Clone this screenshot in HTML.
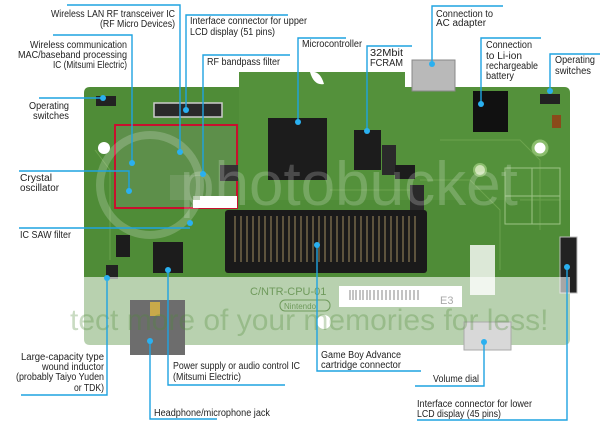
<!DOCTYPE html>
<html><head><meta charset="utf-8"><style>
html,body{margin:0;padding:0;background:#fff;width:612px;height:426px;overflow:hidden}
svg{display:block}
text{font-family:"Liberation Sans",sans-serif;font-size:10px;fill:#222}
</style></head><body>
<svg width="612" height="426" viewBox="0 0 612 426" xmlns="http://www.w3.org/2000/svg">
<path d="M84,93 Q84,87 90,87 L239,87 L239,72 L405,72 L405,87 L564,87 Q570,87 570,93 L570,339 Q570,345 564,345 L90,345 Q84,345 84,339 Z" fill="#4f8c37"/>
<path d="M239,72 L405,72 L405,87 L564,87 Q570,87 570,93 L570,200 L239,200 Z" fill="#5a963f" opacity=".5"/>
<g stroke="#76ab55" stroke-width="1" fill="none" opacity=".7">
<path d="M440,140 L520,140 L540,160 L540,230"/><path d="M420,180 L470,180 L500,210 L500,270"/>
<path d="M520,200 L560,200"/><path d="M95,150 L110,170 L110,260"/><path d="M330,190 L420,190"/>
</g>
<rect x="505" y="168" width="55" height="56" fill="none" stroke="#9cc385" stroke-width="1"/>
<line x1="532" y1="168" x2="532" y2="224" stroke="#9cc385"/><line x1="505" y1="196" x2="560" y2="196" stroke="#9cc385"/>
<circle cx="540" cy="148" r="7" fill="#fff" stroke="#8bbd6d" stroke-width="3"/>
<circle cx="480" cy="170" r="6" fill="#cfe3b6" stroke="#8bbd6d" stroke-width="2"/>
<circle cx="104" cy="148" r="6" fill="#fff"/>
<path d="M310,72 q10,-2 14,12 q-10,2 -14,-12z" fill="#fff"/>
<rect x="115" y="125" width="122" height="83" fill="#5d8f4a" stroke="#c8102e" stroke-width="2"/>
<rect x="193" y="196" width="44" height="12" fill="#fff"/>
<rect x="170" y="175" width="30" height="25" fill="#7aa06a" opacity=".6"/>
<rect x="154" y="103" width="68" height="14" fill="#2a2a2a" stroke="#ccc" stroke-width="1.5"/>
<rect x="268" y="118" width="59" height="62" fill="#1c1c1c"/>
<rect x="354" y="130" width="27" height="40" fill="#1c1c1c"/>
<rect x="412" y="60" width="43" height="31" fill="#b9b9b9" stroke="#888"/>
<rect x="473" y="91" width="35" height="41" fill="#111"/>
<rect x="153" y="242" width="30" height="31" fill="#1c1c1c"/>
<rect x="96" y="96" width="20" height="10" fill="#222"/>
<rect x="540" y="94" width="20" height="10" fill="#222"/>
<rect x="382" y="145" width="14" height="30" fill="#2a2a2a"/>
<rect x="395" y="165" width="20" height="14" fill="#1c1c1c"/>
<rect x="410" y="185" width="14" height="26" fill="#2a2a2a"/>
<rect x="220" y="165" width="18" height="16" fill="#333"/>
<rect x="116" y="235" width="14" height="22" fill="#1c1c1c"/>
<rect x="106" y="265" width="12" height="14" fill="#222"/>
<rect x="552" y="115" width="9" height="13" fill="#8a4a1a"/>
<rect x="225" y="210" width="202" height="63" rx="3" fill="#1a1a1a"/>
<g stroke="#8a7a55" stroke-width="1.2">
<path d="M235,216 V262 M241,216 V262 M247,216 V262 M253,216 V262 M259,216 V262 M265,216 V262 M271,216 V262 M277,216 V262 M283,216 V262 M289,216 V262 M295,216 V262 M301,216 V262 M307,216 V262 M313,216 V262 M319,216 V262 M325,216 V262 M331,216 V262 M337,216 V262 M343,216 V262 M349,216 V262 M355,216 V262 M361,216 V262 M367,216 V262 M373,216 V262 M379,216 V262 M385,216 V262 M391,216 V262 M397,216 V262 M403,216 V262 M409,216 V262 M415,216 V262"/>
</g>
<rect x="560" y="237" width="17" height="56" fill="#222" stroke="#bbb"/>
<rect x="470" y="245" width="25" height="50" fill="#fff" opacity=".8"/>
<rect x="84" y="277" width="486" height="68" fill="#fff" opacity=".6"/>
<rect x="339" y="286" width="123" height="21" fill="#fff"/>
<g stroke="#555" stroke-width=".7"><path d="M350,290 V300 M353,290 V300 M356,290 V300 M360,290 V300 M363,290 V300 M367,290 V300 M370,290 V300 M374,290 V300 M378,290 V300 M382,290 V300 M386,290 V300 M390,290 V300 M394,290 V300 M398,290 V300 M402,290 V300 M406,290 V300 M410,290 V300 M414,290 V300 M418,290 V300"/></g>
<text x="440" y="304" style="font-size:11px;fill:#aaa">E3</text>
<text x="250" y="295" style="font-size:11px;fill:#6f9a5c">C/NTR-CPU-01</text>
<rect x="280" y="300" width="50" height="11" rx="5" fill="none" stroke="#6f9a5c"/>
<text x="284" y="309" style="font-size:8px;fill:#6f9a5c">Nintendo</text>
<rect x="130" y="300" width="55" height="55" fill="#6d6d6d"/>
<rect x="150" y="302" width="10" height="14" fill="#c9a94a"/>
<rect x="464" y="322" width="47" height="28" fill="#d8d8d8" stroke="#aaa"/>
<circle cx="324" cy="322" r="7" fill="#fff"/>
<text x="180" y="205" style="font-size:62px;fill:#fff;opacity:.2">photobucket</text>
<text x="70" y="330" style="font-size:30px;fill:#4f8c37;opacity:.3">tect more of your memories for less!</text>
<circle cx="150" cy="185" r="50" fill="none" stroke="#fff" stroke-width="8" opacity=".2"/>
<g stroke="#1fa3e0" stroke-width="1.4" fill="none">
<path d="M67,5 H180 V152"/>
<path d="M288,15 H186 V110"/>
<path d="M53,35 H132 V163"/>
<path d="M290,55 H203 V174"/>
<path d="M346,38 H298 V122"/>
<path d="M412,46 H367 V131"/>
<path d="M503,6 H432 V64"/>
<path d="M541,38 H481 V104"/>
<path d="M600,54 H550 V91"/>
<path d="M39,98 H103"/>
<path d="M19,171 H129 V191"/>
<path d="M19,228 H190"/>
<path d="M21,395 H107 V278"/>
<path d="M217,419 H150 V341"/>
<path d="M285,385 H168 V270"/>
<path d="M421,371 H317 V245"/>
<path d="M415,386 H484 V342"/>
<path d="M417,420 H567 V267"/>
</g>
<g fill="#2ab0f0">
<circle cx="180" cy="152" r="3"/><circle cx="186" cy="110" r="3"/><circle cx="132" cy="163" r="3"/>
<circle cx="203" cy="174" r="3"/><circle cx="298" cy="122" r="3"/><circle cx="367" cy="131" r="3"/>
<circle cx="432" cy="64" r="3"/><circle cx="481" cy="104" r="3"/><circle cx="550" cy="91" r="3"/>
<circle cx="103" cy="98" r="3"/><circle cx="129" cy="191" r="3"/><circle cx="190" cy="223" r="3"/>
<circle cx="107" cy="278" r="3"/><circle cx="150" cy="341" r="3"/><circle cx="168" cy="270" r="3"/>
<circle cx="317" cy="245" r="3"/><circle cx="484" cy="342" r="3"/><circle cx="567" cy="267" r="3"/>
</g>
<g text-anchor="end">
<text x="175" y="17" textLength="124" lengthAdjust="spacingAndGlyphs">Wireless LAN RF transceiver IC</text>
<text x="175" y="27" textLength="75" lengthAdjust="spacingAndGlyphs">(RF Micro Devices)</text>
<text x="127" y="48" textLength="97" lengthAdjust="spacingAndGlyphs">Wireless communication</text>
<text x="127" y="58" textLength="109" lengthAdjust="spacingAndGlyphs">MAC/baseband processing</text>
<text x="127" y="68" textLength="74" lengthAdjust="spacingAndGlyphs">IC (Mitsumi Electric)</text>
<text x="69" y="109" textLength="40" lengthAdjust="spacingAndGlyphs">Operating</text>
<text x="69" y="119" textLength="36" lengthAdjust="spacingAndGlyphs">switches</text>
<text x="104" y="360" textLength="83" lengthAdjust="spacingAndGlyphs">Large-capacity type</text>
<text x="104" y="370" textLength="62" lengthAdjust="spacingAndGlyphs">wound inductor</text>
<text x="104" y="380" textLength="88" lengthAdjust="spacingAndGlyphs">(probably Taiyo Yuden</text>
<text x="104" y="391" textLength="30" lengthAdjust="spacingAndGlyphs">or TDK)</text>
<text x="479" y="382" textLength="46" lengthAdjust="spacingAndGlyphs">Volume dial</text>
</g>
<text x="190" y="24" textLength="117" lengthAdjust="spacingAndGlyphs">Interface connector for upper</text>
<text x="190" y="35" textLength="85" lengthAdjust="spacingAndGlyphs">LCD display (51 pins)</text>
<text x="207" y="65" textLength="73" lengthAdjust="spacingAndGlyphs">RF bandpass filter</text>
<text x="302" y="47" textLength="60" lengthAdjust="spacingAndGlyphs">Microcontroller</text>
<text x="370" y="56" textLength="33" lengthAdjust="spacingAndGlyphs">32Mbit</text>
<text x="370" y="66" textLength="33" lengthAdjust="spacingAndGlyphs">FCRAM</text>
<text x="436" y="17" textLength="57" lengthAdjust="spacingAndGlyphs">Connection to</text>
<text x="436" y="26" textLength="50" lengthAdjust="spacingAndGlyphs">AC adapter</text>
<text x="486" y="48" textLength="46" lengthAdjust="spacingAndGlyphs">Connection</text>
<text x="486" y="59" textLength="36" lengthAdjust="spacingAndGlyphs">to Li-ion</text>
<text x="486" y="69" textLength="52" lengthAdjust="spacingAndGlyphs">rechargeable</text>
<text x="486" y="79" textLength="28" lengthAdjust="spacingAndGlyphs">battery</text>
<text x="555" y="63" textLength="40" lengthAdjust="spacingAndGlyphs">Operating</text>
<text x="555" y="74" textLength="36" lengthAdjust="spacingAndGlyphs">switches</text>
<text x="20" y="181" textLength="32" lengthAdjust="spacingAndGlyphs">Crystal</text>
<text x="20" y="191" textLength="39" lengthAdjust="spacingAndGlyphs">oscillator</text>
<text x="20" y="238" textLength="51" lengthAdjust="spacingAndGlyphs">IC SAW filter</text>
<text x="173" y="369" textLength="127" lengthAdjust="spacingAndGlyphs">Power supply or audio control IC</text>
<text x="173" y="380" textLength="68" lengthAdjust="spacingAndGlyphs">(Mitsumi Electric)</text>
<text x="321" y="358" textLength="80" lengthAdjust="spacingAndGlyphs">Game Boy Advance</text>
<text x="321" y="368" textLength="80" lengthAdjust="spacingAndGlyphs">cartridge connector</text>
<text x="154" y="416" textLength="116" lengthAdjust="spacingAndGlyphs">Headphone/microphone jack</text>
<text x="417" y="407" textLength="115" lengthAdjust="spacingAndGlyphs">Interface connector for lower</text>
<text x="417" y="417" textLength="84" lengthAdjust="spacingAndGlyphs">LCD display (45 pins)</text>
</svg>
</body></html>
